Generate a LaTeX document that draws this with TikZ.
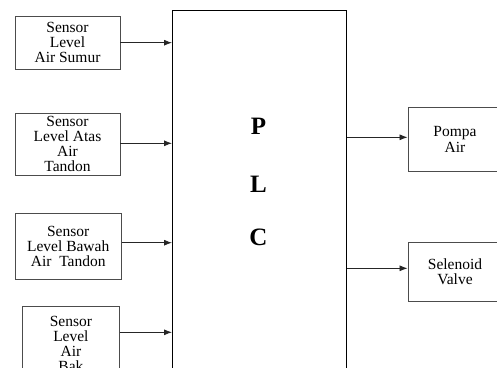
\documentclass[tikz,border=0pt]{standalone}
\usepackage{fontspec}
\setmainfont{Liberation Serif}
\usetikzlibrary{arrows.meta}
\begin{document}
\begin{tikzpicture}[x=1pt,y=-1pt,
  sbox/.style={draw=black!70,line width=0.9pt,inner sep=0pt,align=center,
    font=\fontsize{15.5}{15}\selectfont},
  plcbox/.style={draw=black,line width=0.9pt,inner sep=0pt},
  plcletter/.style={font=\fontsize{25}{25}\bfseries\selectfont,inner sep=0pt,anchor=base},
  conn/.style={draw=black!85,line width=0.8pt,-{Latex[length=8pt,width=6pt]}}]
\clip (0,0) rectangle (497,367);
\fill[white] (0,0) rectangle (497,367);
% PLC
\node[plcbox,minimum width=174pt,minimum height=380pt,anchor=north west] (plc) at (172,10) {};
\node[plcletter] (p) at (258.5,134) {P};
\node[plcletter] (l) at (258.5,192.3) {L};
\node[plcletter] (c) at (258.5,245.7) {C};
% inputs
\node[sbox,minimum width=105pt,minimum height=53.7pt] (s1) at (67.5,42.9) {Sensor\\Level\\Air Sumur};
\node[sbox,minimum width=105pt,minimum height=62pt] (s2) at (67.5,144.3) {Sensor\\Level Atas\\Air\\Tandon};
\node[sbox,minimum width=105.7pt,minimum height=66pt] (s3) at (68.2,246.3) {Sensor\\Level Bawah\\Air\ \ Tandon};
\node[sbox,minimum width=96.3pt,minimum height=76pt] (s4) at (70.9,344) {Sensor\\Level\\Air\\Bak};
% outputs
\node[sbox,minimum width=94pt,minimum height=63.3pt] (o1) at (455,139.3) {\raisebox{-2pt}{\parbox{60pt}{\centering Pompa\\[1.5pt]Air}}};
\node[sbox,minimum width=94pt,minimum height=59pt] (o2) at (455,272.2) {\raisebox{-3pt}{\parbox{60pt}{\centering Selenoid\\Valve}}};
% connectors
\coordinate (i1) at (plc.west |- 0,42.7);
\coordinate (i2) at (plc.west |- 0,143.3);
\coordinate (i3) at (plc.west |- 0,242.7);
\coordinate (i4) at (plc.west |- 0,332.3);
\draw[conn] (s1.east |- i1) -- (i1);
\draw[conn] (s2.east |- i2) -- (i2);
\draw[conn] (s3.east |- i3) -- (i3);
\draw[conn] (s4.east |- i4) -- (i4);
\coordinate (q1) at (plc.east |- 0,137.3);
\coordinate (q2) at (plc.east |- 0,268.3);
\draw[conn] (q1) -- (o1.west |- q1);
\draw[conn] (q2) -- (o2.west |- q2);
\end{tikzpicture}
\end{document}
